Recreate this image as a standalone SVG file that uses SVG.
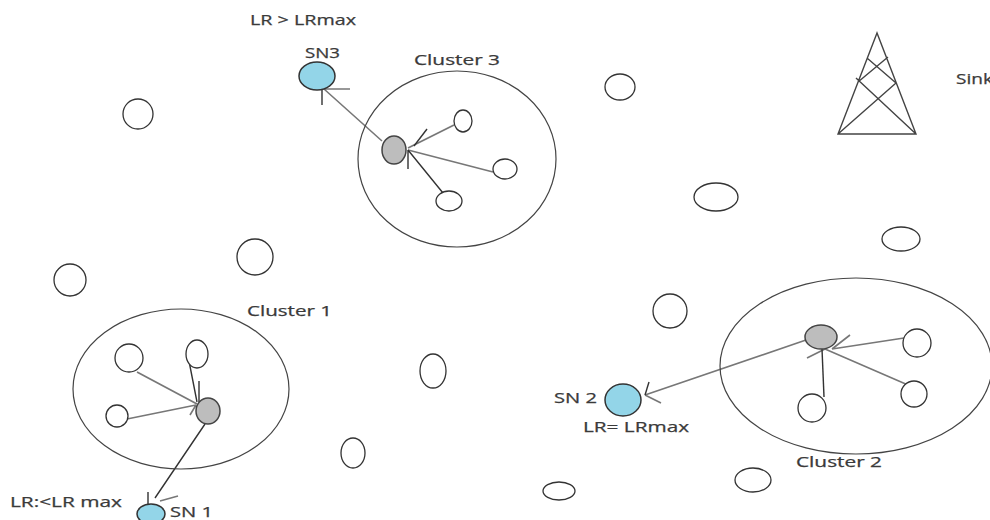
<svg xmlns="http://www.w3.org/2000/svg" width="990" height="520" viewBox="0 0 990 520">
<style>
.n{fill:#fff;stroke:#333;stroke-width:1.3}
.c{fill:none;stroke:#444;stroke-width:1.2}
.h{fill:#bdbdbd;stroke:#444;stroke-width:1.5}
.s{fill:#93d5e8;stroke:#333;stroke-width:1.5}
.k{stroke:#777;stroke-width:1.6;fill:none}
.d{stroke:#333;stroke-width:1.4;fill:none}
.t{stroke:#444;stroke-width:1.4;fill:none}
text{font-family:"Open Sans","DejaVu Sans",sans-serif;font-size:14px;fill:#3a3a3a;stroke:#3a3a3a;stroke-width:.25}
</style>
<rect width="990" height="520" fill="#fff"/>
<g id="connectors">
<path class="k" d="M382 141L324 89M324 89H350"/><path class="d" d="M322 88V105"/>
<path class="k" d="M454 125L408 148"/><path class="d" d="M427 129L414 146"/>
<path class="k" d="M493 172L408 150"/>
<path class="d" d="M443 193L408 150M408 150V169"/>
<path class="k" d="M137 372L197 404"/>
<path class="d" d="M188 356L197 402M199 381V402"/>
<path class="k" d="M127 419L196 405M190 415L196 405"/>
<path class="d" d="M205 424L155 498M148 492V504"/><path class="k" d="M160 501L178 496"/>
<path class="k" d="M806 340L645 395M645 395L661 403"/><path class="d" d="M649 382L645 395"/>
<path class="k" d="M904 338L832 349M850 335L832 349"/>
<path class="k" d="M825 349L908 385M825 349L807 358"/>
<path class="d" d="M822 349L824 397"/>
</g>
<g id="cluster-1"><ellipse class="c" cx="181" cy="389" rx="108" ry="80"/><text x="247" y="316" textLength="85" lengthAdjust="spacingAndGlyphs">Cluster 1</text></g>
<g id="cluster-2"><ellipse class="c" cx="856" cy="366" rx="136" ry="88"/><text x="796" y="467" textLength="86" lengthAdjust="spacingAndGlyphs">Cluster 2</text></g>
<g id="cluster-3"><ellipse class="c" cx="457" cy="159" rx="99" ry="88"/><text x="414" y="65" textLength="86" lengthAdjust="spacingAndGlyphs">Cluster 3</text></g>
<g id="sink">
<path class="t" d="M877 33L838 134H916ZM838 134L896 83M916 134L856 78M896 83L867 58M858 82L888 57"/>
<text x="956" y="84" textLength="37" lengthAdjust="spacingAndGlyphs">Sink</text>
</g>
<g id="sn1"><ellipse class="s" cx="151" cy="514" rx="14" ry="10"/><text x="170" y="517" textLength="43" lengthAdjust="spacingAndGlyphs">SN 1</text><text x="10" y="507" textLength="112" lengthAdjust="spacingAndGlyphs">LR:&lt;LR max</text></g>
<g id="sn2"><ellipse class="s" cx="623" cy="400" rx="18" ry="16"/><text x="554" y="403" textLength="43" lengthAdjust="spacingAndGlyphs">SN 2</text><text x="583" y="432" textLength="106" lengthAdjust="spacingAndGlyphs">LR= LRmax</text></g>
<g id="sn3"><ellipse class="s" cx="317" cy="76" rx="18" ry="14"/><text x="305" y="58" textLength="35" lengthAdjust="spacingAndGlyphs">SN3</text><text x="250" y="25" textLength="106" lengthAdjust="spacingAndGlyphs">LR &gt; LRmax</text></g>
<g id="head-1"><ellipse class="h" cx="208" cy="411" rx="12" ry="13"/></g>
<g id="head-2"><ellipse class="h" cx="821" cy="337" rx="16" ry="12"/></g>
<g id="head-3"><ellipse class="h" cx="394" cy="150" rx="12" ry="14"/></g>
<g id="n1"><circle class="n" cx="138" cy="114" r="15"/></g>
<g id="n2"><ellipse class="n" cx="620" cy="87" rx="15" ry="13"/></g>
<g id="n3"><ellipse class="n" cx="716" cy="197" rx="22" ry="14"/></g>
<g id="n4"><ellipse class="n" cx="901" cy="239" rx="19" ry="12"/></g>
<g id="n5"><circle class="n" cx="255" cy="257" r="18"/></g>
<g id="n6"><circle class="n" cx="70" cy="280" r="16"/></g>
<g id="n7"><circle class="n" cx="670" cy="311" r="17"/></g>
<g id="n8"><ellipse class="n" cx="433" cy="371" rx="13" ry="17"/></g>
<g id="n9"><ellipse class="n" cx="353" cy="453" rx="12" ry="15"/></g>
<g id="n10"><ellipse class="n" cx="559" cy="491" rx="16" ry="9"/></g>
<g id="n11"><ellipse class="n" cx="753" cy="480" rx="18" ry="12"/></g>
<g id="n12"><ellipse class="n" cx="463" cy="121" rx="9" ry="11"/></g>
<g id="n13"><ellipse class="n" cx="505" cy="169" rx="12" ry="10"/></g>
<g id="n14"><ellipse class="n" cx="449" cy="201" rx="13" ry="10"/></g>
<g id="n15"><circle class="n" cx="129" cy="358" r="14"/></g>
<g id="n16"><ellipse class="n" cx="197" cy="354" rx="11" ry="14"/></g>
<g id="n17"><circle class="n" cx="117" cy="416" r="11"/></g>
<g id="n18"><circle class="n" cx="917" cy="343" r="14"/></g>
<g id="n19"><circle class="n" cx="914" cy="394" r="13"/></g>
<g id="n20"><circle class="n" cx="812" cy="408" r="14"/></g>
</svg>
